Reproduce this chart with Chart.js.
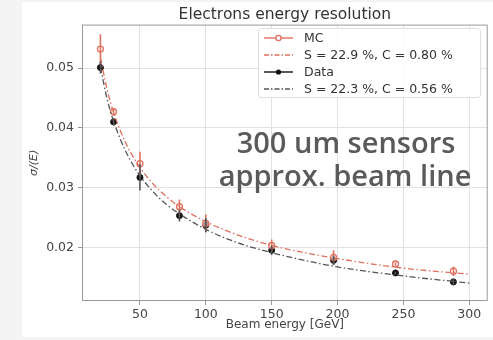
<!DOCTYPE html>
<html>
<head>
<meta charset="utf-8">
<script src="https://cdn.jsdelivr.net/npm/chart.js@4.4.1/dist/chart.umd.min.js"></script>
<style>
  html, body { margin: 0; padding: 0; background: #f4f4f4; }
  #wrap { width: 493px; height: 340px; }
</style>
</head>
<body>
<div id="wrap"><canvas id="resolution"></canvas></div>
<script>
// beam energies [GeV] of the measured points
const energies = [20, 30, 50, 80, 100, 150, 197, 244, 288];
// sigma/E for simulation and test beam data, with vertical errors
const mcRes = [0.0532, 0.0427, 0.0340, 0.0268, 0.0240, 0.0203, 0.0183, 0.0172, 0.0160];
const mcErr = [0.0025, 0.0006, 0.0020, 0.0012, 0.0015, 0.0010, 0.0012, 0.0003, 0.0008];
const dataRes = [0.0501, 0.0410, 0.0317, 0.0253, 0.0237, 0.0195, 0.0178, 0.0157, 0.0142];
const dataErr = [0.0010, 0.0006, 0.0022, 0.0010, 0.0012, 0.0008, 0.0008, 0.0002, 0.0006];
// fitted curves
const fitE = [20, 25, 30, 40, 50, 60, 70, 80, 100, 125, 150, 175, 200, 250, 300];
const mcFit = [0.0518, 0.0465, 0.0426, 0.0371, 0.0334, 0.0306, 0.0285, 0.0268, 0.0243, 0.0220, 0.0203, 0.0191, 0.0181, 0.0165, 0.0155];
const dataFit = [0.0502, 0.0449, 0.0411, 0.0357, 0.0320, 0.0293, 0.0272, 0.0256, 0.0230, 0.0207, 0.0191, 0.0178, 0.0167, 0.0152, 0.0140];
const xTicks = [50, 100, 150, 200, 250, 300];
const yTicks = [0.02, 0.03, 0.04, 0.05];
const legendLabels = ['MC', 'S = 22.9 %, C = 0.80 %', 'Data', 'S = 22.3 %, C = 0.56 %'];
const noteLines = ['300 um sensors', 'approx. beam line'];

const RED = '#e0705f';
const BLACK = '#111111';
const GREY = '#555555';
const FONT = "'DejaVu Sans', sans-serif";

const pts = (xs, ys) => xs.map((x, i) => ({ x: x, y: ys[i] }));

// white sheet behind the figure
const sheet = {
    id: 'sheet',
    beforeDraw(chart) {
        const ctx = chart.ctx;
        ctx.save();
        ctx.fillStyle = '#f4f4f4';
        ctx.fillRect(0, 0, chart.width, chart.height);
        ctx.fillStyle = '#ffffff';
        ctx.fillRect(22, 2, chart.width - 22, 335);
        ctx.restore();
    }
};

// error bars, frame, legend box and note text
const extras = {
    id: 'extras',
    afterDatasetsDraw(chart) {
        const ctx = chart.ctx;
        const xs = chart.scales.x, ys = chart.scales.y;
        const a = chart.chartArea;
        ctx.save();
        ctx.beginPath();
        ctx.rect(a.left, a.top, a.right - a.left, a.bottom - a.top);
        ctx.clip();
        const bars = [[mcRes, mcErr, RED], [dataRes, dataErr, GREY]];
        bars.forEach(([vals, errs, col]) => {
            ctx.strokeStyle = col;
            ctx.lineWidth = 1.6;
            energies.forEach((e, i) => {
                const px = xs.getPixelForValue(e);
                ctx.beginPath();
                ctx.moveTo(px, ys.getPixelForValue(vals[i] - errs[i]));
                ctx.lineTo(px, ys.getPixelForValue(vals[i] + errs[i]));
                ctx.stroke();
            });
        });
        ctx.restore();

        ctx.save();
        // note text
        ctx.fillStyle = '#5a5a5a';
        ctx.font = "600 29px 'Open Sans', sans-serif";
        ctx.textAlign = 'center';
        ctx.textBaseline = 'middle';
        ctx.fillText(noteLines[0], 346, 145);
        ctx.fillText(noteLines[1], 345, 178);

        // frame
        ctx.strokeStyle = '#9a9a9a';
        ctx.lineWidth = 1;
        ctx.strokeRect(a.left + 0.5, a.top + 0.5, a.right - a.left - 1, a.bottom - a.top - 1);

        // legend
        const bx = 258, by = 28, bw = 222, bh = 69;
        ctx.fillStyle = 'rgba(255,255,255,0.85)';
        ctx.strokeStyle = '#dddddd';
        ctx.beginPath();
        ctx.roundRect(bx + 0.5, by + 0.5, bw, bh, 3);
        ctx.fill();
        ctx.stroke();
        const styles = [
            { col: RED, dash: [], marker: 'open' },
            { col: RED, dash: [5, 2, 1.5, 2], marker: null },
            { col: BLACK, dash: [], marker: 'filled' },
            { col: GREY, dash: [5, 2, 1.5, 2], marker: null }
        ];
        ctx.font = '12.5px ' + FONT;
        ctx.textAlign = 'left';
        ctx.textBaseline = 'middle';
        styles.forEach((s, i) => {
            const yy = 38 + i * 17;
            ctx.strokeStyle = s.col;
            ctx.lineWidth = 1.4;
            ctx.setLineDash(s.dash);
            ctx.beginPath();
            ctx.moveTo(264, yy);
            ctx.lineTo(293, yy);
            ctx.stroke();
            ctx.setLineDash([]);
            if (s.marker) {
                ctx.beginPath();
                ctx.arc(278.5, yy, 2.6, 0, Math.PI * 2);
                if (s.marker === 'open') {
                    ctx.fillStyle = '#ffffff';
                    ctx.fill();
                    ctx.stroke();
                } else {
                    ctx.fillStyle = s.col;
                    ctx.fill();
                }
            }
            ctx.fillStyle = '#333333';
            ctx.fillText(legendLabels[i], 304, yy + 1);
        });
        ctx.restore();
    }
};

new Chart(document.getElementById('resolution'), {
    type: 'scatter',
    data: {
        datasets: [
            {
                label: 'MC fit',
                data: pts(fitE, mcFit),
                showLine: true,
                borderColor: RED,
                borderWidth: 1.3,
                borderDash: [6, 2.5, 1.5, 2.5],
                pointRadius: 0,
                cubicInterpolationMode: 'monotone'
            },
            {
                label: 'Data fit',
                data: pts(fitE, dataFit),
                showLine: true,
                borderColor: GREY,
                borderWidth: 1.3,
                borderDash: [6, 2.5, 1.5, 2.5],
                pointRadius: 0,
                cubicInterpolationMode: 'monotone'
            },
            {
                label: 'MC',
                data: pts(energies, mcRes),
                pointRadius: 3,
                pointBorderWidth: 1.3,
                borderColor: RED,
                backgroundColor: 'rgba(255,255,255,0.6)'
            },
            {
                label: 'Data',
                data: pts(energies, dataRes),
                pointRadius: 3,
                borderColor: BLACK,
                backgroundColor: BLACK
            }
        ]
    },
    options: {
        responsive: true,
        maintainAspectRatio: false,
        animation: false,
        layout: { padding: { left: 28, right: 4, top: 0, bottom: 0 } },
        plugins: {
            legend: { display: false },
            tooltip: { enabled: false },
            title: {
                display: true,
                fullSize: false,
                text: 'Electrons energy resolution',
                color: '#333333',
                font: { family: FONT, size: 15.5, weight: 'normal' },
                padding: { top: 6, bottom: 0 }
            }
        },
        scales: {
            x: {
                type: 'linear',
                min: 6,
                max: 314,
                afterBuildTicks: (s) => { s.ticks = xTicks.map(v => ({ value: v })); },
                afterFit: (s) => { s.height = 39; },
                grid: { color: '#e2e2e2', tickLength: 4, tickColor: '#999' },
                border: { display: false },
                ticks: { color: '#444', font: { family: FONT, size: 12.5 }, padding: 2, maxRotation: 0 },
                title: {
                    display: true,
                    text: 'Beam energy [GeV]',
                    color: '#444',
                    font: { family: FONT, size: 12 },
                    padding: { top: 0, bottom: 8 }
                }
            },
            y: {
                min: 0.011,
                max: 0.0573,
                afterBuildTicks: (s) => { s.ticks = yTicks.map(v => ({ value: v })); },
                afterFit: (s) => { s.width = 54; },
                grid: { color: '#e2e2e2', tickLength: 4, tickColor: '#999' },
                border: { display: false },
                ticks: {
                    color: '#444',
                    font: { family: FONT, size: 12.5 },
                    padding: 4,
                    callback: (v) => v.toFixed(2)
                },
                title: {
                    display: true,
                    text: 'σ/(E)',
                    color: '#444',
                    font: { family: FONT, size: 11, style: 'italic' },
                    padding: { top: 0, bottom: 4 }
                }
            }
        }
    },
    plugins: [sheet, extras]
});
</script>
</body>
</html>
